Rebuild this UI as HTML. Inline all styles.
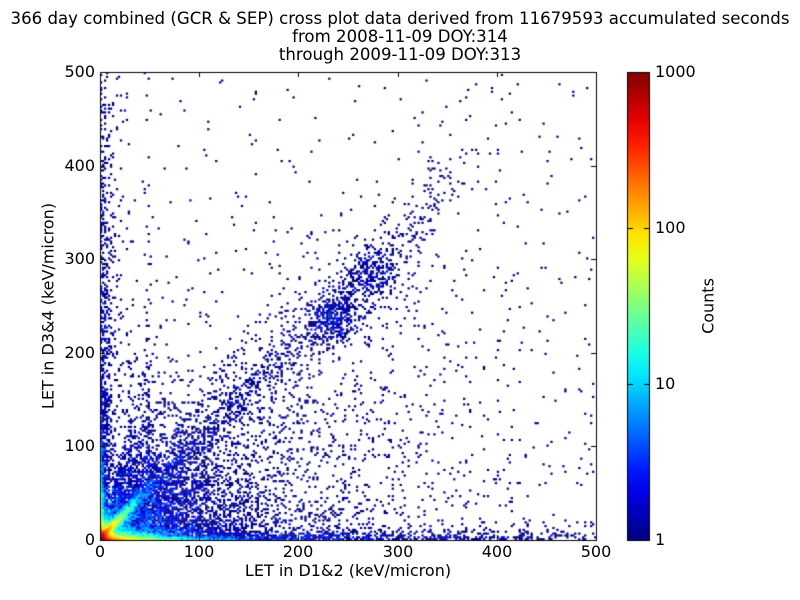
<!DOCTYPE html>
<html><head><meta charset="utf-8"><style>
body{margin:0;background:#fff;width:800px;height:600px;overflow:hidden;position:relative;font-family:"DejaVu Sans","Liberation Sans",sans-serif;color:#000}
.t{position:absolute;white-space:nowrap;font-size:16px}
.c{transform:translateX(-50%)}
.h{font-size:16.6px}
</style></head><body>
<div class="t c h" style="left:400px;top:9px">366 day combined (GCR &amp; SEP) cross plot data derived from 11679593 accumulated seconds</div>
<div class="t c h" style="left:400px;top:27px">from 2008-11-09 DOY:314</div>
<div class="t c h" style="left:400px;top:45px">through 2009-11-09 DOY:313</div>
<canvas id="cv" width="800" height="600" style="position:absolute;left:0;top:0"></canvas>
<div class="t c" style="left:100px;top:542px">0</div>
<div class="t c" style="left:199px;top:542px">100</div>
<div class="t c" style="left:298px;top:542px">200</div>
<div class="t c" style="left:398px;top:542px">300</div>
<div class="t c" style="left:497px;top:542px">400</div>
<div class="t c" style="left:596px;top:542px">500</div>
<div class="t" style="right:705px;top:530px">0</div>
<div class="t" style="right:705px;top:436px">100</div>
<div class="t" style="right:705px;top:343px">200</div>
<div class="t" style="right:705px;top:249px">300</div>
<div class="t" style="right:705px;top:156px">400</div>
<div class="t" style="right:705px;top:62px">500</div>
<div class="t c" style="left:348px;top:561px">LET in D1&amp;2 (keV/micron)</div>
<div class="t" style="left:48px;top:306px;transform:translate(-50%,-50%) rotate(-90deg)">LET in D3&amp;4 (keV/micron)</div>
<div class="t" style="left:655px;top:62px">1000</div>
<div class="t" style="left:655px;top:218px">100</div>
<div class="t" style="left:655px;top:374px">10</div>
<div class="t" style="left:655px;top:530px">1</div>
<div class="t" style="left:708px;top:306px;transform:translate(-50%,-50%) rotate(-90deg)">Counts</div>
<script>
var cv=document.getElementById('cv'),g=cv.getContext('2d');
function jet(v){v=Math.max(0,Math.min(1,v));
 function f(a){return Math.max(0,Math.min(1,1.5-Math.abs(4*v-a)));}
 return 'rgb('+Math.round(255*f(3))+','+Math.round(255*f(2))+','+Math.round(255*f(1))+')';}
var s=12345;function rnd(){s=(s*1103515245+12345)%2147483648;return s/2147483648;}
function pois(l){if(l>40){var u=rnd(),v=rnd();return Math.max(0,Math.round(l+Math.sqrt(l)*Math.sqrt(-2*Math.log(u+1e-9))*Math.cos(6.283*v)));}
 var L=Math.exp(-l),k=0,p=1;do{k++;p*=rnd();}while(p>L);return k-1;}
var X0=100,X1=596,Y0=72,Y1=540,N=250,cw=(X1-X0)/N,ch=(Y1-Y0)/N;
for(var i=0;i<N;i++)for(var j=0;j<N;j++){
 var x=i*2+1,y=j*2+1,r=Math.sqrt(x*x+y*y),a=Math.atan2(y,x);
 var l=2000*Math.exp(-x/4-y/4);
 l+=300*Math.exp(-y/3-x/30)+6*Math.exp(-y/5-x/180)+1.0*Math.exp(-y/12-x/220);
 l+=200*Math.exp(-x/2-y/25)+4*Math.exp(-x/4-y/180)+0.6*Math.exp(-x/12-y/300);
 var w=4+0.07*x,d=(y-1.06*x-2)/w;
 l+=(300*Math.exp(-x/10)+0.8*Math.exp(-x/200))*Math.exp(-d*d)*(x<340?1:Math.exp(-(x-340)/20));
 l+=1.2*Math.exp(-((x-235)*(x-235)+(y-235)*(y-235))/400);
 l+=0.6*Math.exp(-((x-275)*(x-275)+(y-280)*(y-280))/500);
 if(a>0.08&&a<1.35)l+=12*Math.exp(-r/32);
 if(a>0.08&&a<1.0)l+=0.9*Math.exp(-r/100);
 l+=2*Math.exp(-(x-48)*(x-48)/4-y/90);
 l+=1*Math.exp(-(x-30)*(x-30)/6-y/70);
 [2.5,4,7].forEach(function(k){var e=(y-k*x)/4;l+=1.2*Math.exp(-e*e-r/70);});
 l+=0.006+0.06*Math.exp(-r/120);
 var n=pois(l);if(n<1)continue;
 g.fillStyle=jet(Math.log10(n)/3);
 g.fillRect(X0+i*cw,Y1-(j+1)*ch,cw+0.3,ch+0.3);}
g.strokeStyle='#000';g.lineWidth=1;g.strokeRect(100.5,72.5,496,468);
for(var k=0;k<=5;k++){var px=Math.round(100+k*99.2)+0.5,py=Math.round(540-k*93.6)+0.5;
 g.beginPath();g.moveTo(px,540);g.lineTo(px,535);g.moveTo(px,72);g.lineTo(px,77);
 g.moveTo(100,py);g.lineTo(105,py);g.moveTo(596,py);g.lineTo(591,py);g.stroke();}
var gr=g.createLinearGradient(0,540,0,72);
for(var t=0;t<=20;t++)gr.addColorStop(t/20,jet(t/20));
g.fillStyle=gr;g.fillRect(628,72,22,468);g.strokeRect(627.5,72.5,22,468);
for(var k=0;k<4;k++){var py=Math.round(540-k*156)+0.5;g.beginPath();g.moveTo(644,py);g.lineTo(650,py);g.moveTo(628,py);g.lineTo(633,py);g.stroke();}
</script>
</body></html>
